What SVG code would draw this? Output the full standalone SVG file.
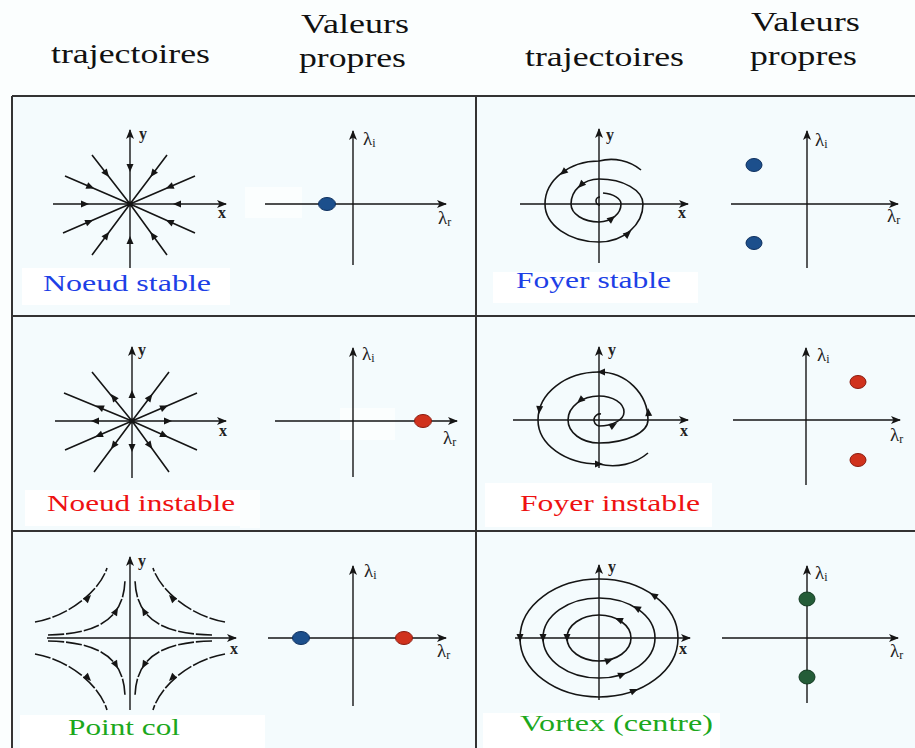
<svg xmlns="http://www.w3.org/2000/svg" xmlns:xlink="http://www.w3.org/1999/xlink" width="915" height="748" viewBox="0 0 915 748">
<style>
.ax{stroke:#151515;stroke-width:1.4;fill:none}
.tr{stroke:#151515;stroke-width:1.6;fill:none}
.hy{stroke:#151515;stroke-width:1.6;fill:none;stroke-dasharray:16 2}
text{font-family:'Liberation Serif','Times New Roman',Times,serif}
.hd{font-size:27px;fill:#111}
.lb{font-size:23px}
.al{font-size:16px;font-weight:bold;fill:#222}
.lm{font-size:19px;fill:#222}
.sub{font-size:12px}
.cell{fill:#f4fbfd}
.wb{fill:#ffffff}
.wf{fill:#fbfefe}
.bd{stroke:#333;stroke-width:2;fill:none}
.blue{fill:#1c4f8c;stroke:#0d2f5e;stroke-width:1}
.red{fill:#d0321d;stroke:#8a1a0e;stroke-width:1}
.green{fill:#245c38;stroke:#133a22;stroke-width:1}
.ah{fill:#151515}
</style>
<defs>
<marker id="arr" viewBox="0 0 10 8" refX="9" refY="4" markerWidth="10" markerHeight="8" markerUnits="userSpaceOnUse" orient="auto">
<path d="M0,0 L10,4 L0,8 L2.5,4 Z" fill="#151515"/>
</marker>
<path id="ah" class="ah" d="M0,0 L-8,-3.5 L-8,3.5 Z"/>
</defs>

<rect x="0" y="0" width="915" height="748" fill="#fbfefe"/>

<g id="header">
<text class="hd" x="51" y="63" textLength="159" lengthAdjust="spacingAndGlyphs">trajectoires</text>
<text class="hd" x="301" y="33" textLength="108" lengthAdjust="spacingAndGlyphs">Valeurs</text>
<text class="hd" x="299" y="67" textLength="107" lengthAdjust="spacingAndGlyphs">propres</text>
<text class="hd" x="525" y="66" textLength="159" lengthAdjust="spacingAndGlyphs">trajectoires</text>
<text class="hd" x="751" y="31" textLength="109" lengthAdjust="spacingAndGlyphs">Valeurs</text>
<text class="hd" x="750" y="65" textLength="107" lengthAdjust="spacingAndGlyphs">propres</text>
</g>

<g id="table">
<rect class="cell" x="12" y="96" width="903" height="652"/>
<rect class="wf" x="245" y="187" width="57" height="31"/>
<rect class="wf" x="340" y="408" width="55" height="32"/>
<rect class="wf" x="240" y="490" width="20" height="38"/>
<path class="bd" d="M12,96 H915 M12,316 H915 M12,531 H915 M12,96 V748 M476,96 V748"/>
</g>

<g id="noeud-stable">
<rect class="wb" x="22" y="268" width="208" height="37"/>
<line class="ax" x1="130" y1="268" x2="130" y2="130" marker-end="url(#arr)"/>
<line class="ax" x1="53" y1="204" x2="226" y2="204" marker-end="url(#arr)"/>
<path class="tr" d="M92,155 L130,204 M167,155 L130,204 M65,176 L130,204 M195,176 L130,204 M63,233 L130,204 M195,233 L130,204 M92,255 L130,204 M167,255 L130,204"/>
<use xlink:href="#ah" transform="translate(109,177) rotate(52)"/>
<use xlink:href="#ah" transform="translate(150.4,177) rotate(127)"/>
<use xlink:href="#ah" transform="translate(94.2,188.6) rotate(23)"/>
<use xlink:href="#ah" transform="translate(165.8,188.6) rotate(157)"/>
<use xlink:href="#ah" transform="translate(93.1,220) rotate(-23)"/>
<use xlink:href="#ah" transform="translate(165.8,220) rotate(-156)"/>
<use xlink:href="#ah" transform="translate(109.1,232) rotate(-53)"/>
<use xlink:href="#ah" transform="translate(150.4,232) rotate(-126)"/>
<use xlink:href="#ah" transform="translate(130,172) rotate(90)"/>
<use xlink:href="#ah" transform="translate(130,236) rotate(-90)"/>
<use xlink:href="#ah" transform="translate(89,204) rotate(0)"/>
<use xlink:href="#ah" transform="translate(173,204) rotate(180)"/>
<circle cx="130" cy="204" r="2.5" fill="#151515"/>
<text class="al" x="139" y="139">y</text>
<text class="al" x="218" y="218">x</text>
<text class="lb" x="43" y="291" fill="#1d3fe6" textLength="168" lengthAdjust="spacingAndGlyphs">Noeud stable</text>
</g>

<g id="vp-noeud-stable">
<line class="ax" x1="353" y1="265" x2="353" y2="131" marker-end="url(#arr)"/>
<line class="ax" x1="265" y1="204" x2="446" y2="204" marker-end="url(#arr)"/>
<ellipse class="blue" cx="327" cy="204" rx="8.5" ry="6.5"/>
<text class="lm" x="363" y="145">λ<tspan class="sub" dy="2">i</tspan></text>
<text class="lm" x="438" y="224">λ<tspan class="sub" dy="2">r</tspan></text>
</g>

<g id="foyer-stable">
<rect class="wb" x="493" y="272" width="205" height="31"/>
<line class="ax" x1="599" y1="263" x2="599" y2="129" marker-end="url(#arr)"/>
<line class="ax" x1="520" y1="204" x2="688" y2="204" marker-end="url(#arr)"/>
<path class="tr" d="M641,170 A44 40 0 0 0 599,161 A54 43 0 0 0 545,204 A54 38 0 0 0 599,242 A44 38 0 0 0 643,204 A44 25 0 0 0 599,179 A28 25 0 0 0 571,204 A28 18 0 0 0 599,222 A22 18 0 0 0 621,204 A22 11 0 0 0 603,193"/>
<path class="tr" d="M600,197 A4 4 0 0 0 600,205"/>
<use xlink:href="#ah" transform="translate(560,175) rotate(140)"/>
<use xlink:href="#ah" transform="translate(578,188) rotate(135)"/>
<use xlink:href="#ah" transform="translate(615,216) rotate(-39)"/>
<use xlink:href="#ah" transform="translate(631,231) rotate(-41)"/>
<text class="al" x="606" y="140">y</text>
<text class="al" x="678" y="218">x</text>
<text class="lb" x="516" y="288" fill="#1d3fe6" textLength="155" lengthAdjust="spacingAndGlyphs">Foyer stable</text>
</g>

<g id="vp-foyer-stable">
<line class="ax" x1="807" y1="268" x2="807" y2="131" marker-end="url(#arr)"/>
<line class="ax" x1="731" y1="204" x2="898" y2="204" marker-end="url(#arr)"/>
<ellipse class="blue" cx="754" cy="165" rx="8" ry="6.5"/>
<ellipse class="blue" cx="754" cy="243" rx="8" ry="6.5"/>
<text class="lm" x="815" y="146">λ<tspan class="sub" dy="2">i</tspan></text>
<text class="lm" x="887" y="222">λ<tspan class="sub" dy="2">r</tspan></text>
</g>

<g id="noeud-instable">
<rect class="wb" x="25" y="490" width="215" height="36"/>
<line class="ax" x1="132" y1="478" x2="132" y2="347" marker-end="url(#arr)"/>
<line class="ax" x1="55" y1="421" x2="226" y2="421" marker-end="url(#arr)"/>
<path class="tr" d="M92,372 L132,421 M169,372 L132,421 M64,393 L132,421 M197,393 L132,421 M65,450 L132,421 M197,450 L132,421 M94,472 L132,421 M169,472 L132,421"/>
<use xlink:href="#ah" transform="translate(111,394) rotate(-128)"/>
<use xlink:href="#ah" transform="translate(152.4,394) rotate(-53)"/>
<use xlink:href="#ah" transform="translate(96,405.6) rotate(-157)"/>
<use xlink:href="#ah" transform="translate(168,405.6) rotate(-23)"/>
<use xlink:href="#ah" transform="translate(95,437) rotate(157)"/>
<use xlink:href="#ah" transform="translate(168,437) rotate(24)"/>
<use xlink:href="#ah" transform="translate(111,449) rotate(127)"/>
<use xlink:href="#ah" transform="translate(152.4,449) rotate(54)"/>
<use xlink:href="#ah" transform="translate(132,390) rotate(-90)"/>
<use xlink:href="#ah" transform="translate(132,452) rotate(90)"/>
<use xlink:href="#ah" transform="translate(91,421) rotate(180)"/>
<use xlink:href="#ah" transform="translate(172,421) rotate(0)"/>
<circle cx="132" cy="421" r="2.5" fill="#151515"/>
<text class="al" x="138" y="355">y</text>
<text class="al" x="219" y="436">x</text>
<text class="lb" x="47" y="511" fill="#ee1111" textLength="188" lengthAdjust="spacingAndGlyphs">Noeud instable</text>
</g>

<g id="vp-noeud-instable">
<line class="ax" x1="353" y1="477" x2="353" y2="348" marker-end="url(#arr)"/>
<line class="ax" x1="275" y1="421" x2="457" y2="421" marker-end="url(#arr)"/>
<ellipse class="red" cx="423" cy="421" rx="8.5" ry="6.5"/>
<text class="lm" x="362" y="360">λ<tspan class="sub" dy="2">i</tspan></text>
<text class="lm" x="443" y="444">λ<tspan class="sub" dy="2">r</tspan></text>
</g>

<g id="foyer-instable">
<rect class="wb" x="485" y="483" width="227" height="44"/>
<line class="ax" x1="599" y1="468" x2="599" y2="347" marker-end="url(#arr)"/>
<line class="ax" x1="513" y1="420" x2="688" y2="420" marker-end="url(#arr)"/>
<path class="tr" d="M601,414 A6 6 0 0 0 599,426 A25 14 0 0 0 624,412 A25 16 0 0 0 599,396 A31 24 0 0 0 568,420 A31 23 0 0 0 599,443 A49 23 0 0 0 648,420 A49 48 0 0 0 599,372 A61 48 0 0 0 538,420 A61 44 0 0 0 599,464 A50 44 0 0 0 648,453"/>
<use xlink:href="#ah" transform="translate(597,372) rotate(180)"/>
<use xlink:href="#ah" transform="translate(539,414) rotate(95)"/>
<use xlink:href="#ah" transform="translate(648,408) rotate(-95)"/>
<use xlink:href="#ah" transform="translate(603,464) rotate(0)"/>
<use xlink:href="#ah" transform="translate(577,403) rotate(140)"/>
<use xlink:href="#ah" transform="translate(617,423) rotate(-30)"/>
<text class="al" x="608" y="355">y</text>
<text class="al" x="680" y="436">x</text>
<text class="lb" x="520" y="511" fill="#ee1111" textLength="180" lengthAdjust="spacingAndGlyphs">Foyer instable</text>
</g>

<g id="vp-foyer-instable">
<line class="ax" x1="806" y1="485" x2="806" y2="348" marker-end="url(#arr)"/>
<line class="ax" x1="733" y1="420" x2="900" y2="420" marker-end="url(#arr)"/>
<ellipse class="red" cx="858" cy="382" rx="8" ry="6.5"/>
<ellipse class="red" cx="858" cy="460" rx="8" ry="6.5"/>
<text class="lm" x="817" y="361">λ<tspan class="sub" dy="2">i</tspan></text>
<text class="lm" x="890" y="441">λ<tspan class="sub" dy="2">r</tspan></text>
</g>

<g id="point-col">
<rect class="wb" x="20" y="715" width="245" height="33"/>
<line class="ax" x1="130" y1="710" x2="130" y2="557" marker-end="url(#arr)"/>
<line class="ax" x1="47" y1="638" x2="236" y2="638" marker-end="url(#arr)"/>
<path class="hy" d="M35,622 C70,616 100,590 107,568 M225,622 C190,616 160,590 153,568 M35,654 C70,660 100,686 107,710 M225,654 C190,660 160,686 153,710"/>
<path class="hy" d="M48,635 C102,634 124,616 125,580 M212,635 C158,634 136,616 135,580 M48,641 C102,642 124,660 125,696 M212,641 C158,642 136,660 135,696"/>
<use xlink:href="#ah" transform="translate(91,595) rotate(-45)"/>
<use xlink:href="#ah" transform="translate(118,607.5) rotate(-60)"/>
<use xlink:href="#ah" transform="translate(169,595) rotate(-135)"/>
<use xlink:href="#ah" transform="translate(142,607.5) rotate(-120)"/>
<use xlink:href="#ah" transform="translate(91,681) rotate(45)"/>
<use xlink:href="#ah" transform="translate(118,668.5) rotate(60)"/>
<use xlink:href="#ah" transform="translate(169,681) rotate(135)"/>
<use xlink:href="#ah" transform="translate(142,668.5) rotate(120)"/>
<text class="al" x="138" y="566">y</text>
<text class="al" x="230" y="654">x</text>
<text class="lb" x="68" y="735" fill="#1ca81c" textLength="112" lengthAdjust="spacingAndGlyphs">Point col</text>
</g>

<g id="vp-point-col">
<line class="ax" x1="353" y1="706" x2="353" y2="566" marker-end="url(#arr)"/>
<line class="ax" x1="268" y1="638" x2="446" y2="638" marker-end="url(#arr)"/>
<ellipse class="blue" cx="301" cy="638" rx="8.5" ry="6.5"/>
<ellipse class="red" cx="404" cy="638" rx="8.5" ry="6.5"/>
<text class="lm" x="364" y="577">λ<tspan class="sub" dy="2">i</tspan></text>
<text class="lm" x="437" y="657">λ<tspan class="sub" dy="2">r</tspan></text>
</g>

<g id="vortex">
<rect class="wb" x="483" y="713" width="237" height="35"/>
<line class="ax" x1="599" y1="700" x2="599" y2="565" marker-end="url(#arr)"/>
<line class="ax" x1="515" y1="638" x2="690" y2="638" marker-end="url(#arr)"/>
<ellipse class="tr" cx="599" cy="638" rx="79" ry="59"/>
<ellipse class="tr" cx="599" cy="638" rx="56" ry="40"/>
<ellipse class="tr" cx="599" cy="638" rx="32" ry="23"/>
<use xlink:href="#ah" transform="translate(520,642) rotate(90)"/>
<use xlink:href="#ah" transform="translate(543,642) rotate(90)"/>
<use xlink:href="#ah" transform="translate(567,642) rotate(90)"/>
<use xlink:href="#ah" transform="translate(650,593) rotate(-148)"/>
<use xlink:href="#ah" transform="translate(633,606) rotate(-151)"/>
<use xlink:href="#ah" transform="translate(615,618) rotate(-157)"/>
<use xlink:href="#ah" transform="translate(613,659) rotate(-19)"/>
<use xlink:href="#ah" transform="translate(626,673) rotate(-22)"/>
<use xlink:href="#ah" transform="translate(638,689) rotate(-23)"/>
<text class="al" x="608" y="572">y</text>
<text class="al" x="679" y="654">x</text>
<text class="lb" x="520" y="731" fill="#1ca81c" textLength="193" lengthAdjust="spacingAndGlyphs">Vortex (centre)</text>
</g>

<g id="vp-vortex">
<line class="ax" x1="807" y1="703" x2="807" y2="566" marker-end="url(#arr)"/>
<line class="ax" x1="722" y1="638" x2="898" y2="638" marker-end="url(#arr)"/>
<ellipse class="green" cx="807" cy="599" rx="8" ry="7"/>
<ellipse class="green" cx="807" cy="677" rx="8" ry="7"/>
<text class="lm" x="815" y="579">λ<tspan class="sub" dy="2">i</tspan></text>
<text class="lm" x="890" y="657">λ<tspan class="sub" dy="2">r</tspan></text>
</g>
</svg>
